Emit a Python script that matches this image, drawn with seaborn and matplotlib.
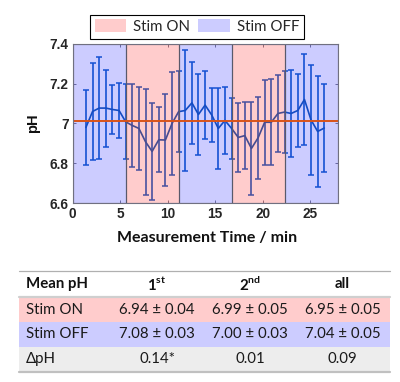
import numpy as np
import pandas as pd
import seaborn as sns
import matplotlib
matplotlib.use("Agg")
import matplotlib.pyplot as plt
from matplotlib.patches import Rectangle, Patch
from matplotlib.lines import Line2D

# ---------------- data ----------------
time_min = [1.39, 2.09, 2.79, 3.49, 4.18, 4.88, 5.58, 6.27, 6.97, 7.67,
            8.36, 9.06, 9.76, 10.46, 11.15, 11.85, 12.55, 13.24, 13.94, 14.64,
            15.33, 16.03, 16.73, 17.43, 18.12, 18.82, 19.52, 20.21, 20.91, 21.61,
            22.30, 23.00, 23.70, 24.40, 25.09, 25.79, 26.49]
ph_mean = [6.98, 7.06, 7.077, 7.077, 7.07, 7.065, 7.008, 6.99, 6.975, 6.908,
           6.86, 6.918, 6.917, 7.0, 7.059, 7.065, 7.103, 7.045, 7.092, 7.042,
           6.975, 7.015, 6.975, 6.93, 6.939, 6.875, 6.928, 7.006, 7.006, 7.05,
           7.057, 7.05, 7.065, 7.12, 7.018, 6.96, 6.977]
ph_err = [0.19, 0.245, 0.255, 0.193, 0.125, 0.139, 0.188, 0.207, 0.208, 0.267,
          0.243, 0.163, 0.23, 0.258, 0.204, 0.302, 0.205, 0.203, 0.171, 0.134,
          0.203, 0.168, 0.153, 0.172, 0.169, 0.233, 0.205, 0.214, 0.216, 0.195,
          0.206, 0.217, 0.182, 0.229, 0.274, 0.277, 0.222]
block_edges = [0, 5.58, 11.15, 16.73, 22.30, 27.88]
block_state = ["OFF", "ON", "OFF", "ON", "OFF"]
mean_ref = 7.01
x_ticks = [0, 5, 10, 15, 20, 25]
y_ticks = [6.6, 6.8, 7.0, 7.2, 7.4]
y_tick_labels = ["6.6", "6.8", "7", "7.2", "7.4"]
legend_labels = ["Stim ON", "Stim OFF"]
x_label = "Measurement Time / min"
y_label = "pH"

table_header = ["Mean pH", r"$\mathbf{1}^{\mathbf{st}}$", r"$\mathbf{2}^{\mathbf{nd}}$", "all"]
row_labels = ["Stim ON", "Stim OFF", "ΔpH"]
row_values = [["6.94 ± 0.04", "6.99 ± 0.05", "6.95 ± 0.05"],
              ["7.08 ± 0.03", "7.00 ± 0.03", "7.04 ± 0.05"],
              ["0.14*", "0.01", "0.09"]]

# ---------------- style ----------------
sns.set_theme(style="white")
plt.rcParams["font.family"] = ["Lato", "DejaVu Sans"]
plt.rcParams["mathtext.fontset"] = "custom"
plt.rcParams["mathtext.rm"] = "Lato"
plt.rcParams["mathtext.bf"] = "Lato:bold"

W, H = 400, 382
fig = plt.figure(figsize=(W / 100, H / 100), dpi=100)

def fx(x):
    return x / W

def fy(y):
    return 1 - y / H

ax_l, ax_r, ax_t, ax_b = 72.7, 337.5, 43.6, 203.3
ax = fig.add_axes([fx(ax_l), fy(ax_b), (ax_r - ax_l) / W, (ax_b - ax_t) / H])

df = pd.DataFrame({"time": time_min, "ph": ph_mean, "err": ph_err})

line_blue = "#1a66c8"
ax.errorbar(df["time"], df["ph"], yerr=df["err"], fmt="none", ecolor=line_blue,
            elinewidth=1.2, capsize=1.9, capthick=1.1, zorder=2)
sns.lineplot(data=df, x="time", y="ph", ax=ax, color="#1a5fb4", lw=1.2,
             zorder=2, legend=False)

face = {"ON": (1, 0, 0, 0.2), "OFF": (0, 0, 1, 0.2)}
for a, b, s in zip(block_edges[:-1], block_edges[1:], block_state):
    ax.axvspan(a, b, facecolor=face[s], edgecolor=(0.35, 0.35, 0.42, 1.0),
               lw=0.8, zorder=3)

ax.axhline(mean_ref, color="#D95319", lw=1.4, zorder=4)

ax.set_xlim(block_edges[0], block_edges[-1])
ax.set_ylim(6.6, 7.4)
ax.set_xticks(x_ticks)
ax.set_xticklabels([str(t) for t in x_ticks])
ax.set_yticks(y_ticks)
ax.set_yticklabels(y_tick_labels)
ax.tick_params(direction="in", length=2.5, width=0.6, color="#6a6a7a",
               top=True, right=True, bottom=True, left=True, pad=3)
for lab in ax.get_xticklabels() + ax.get_yticklabels():
    lab.set_fontfamily(["Liberation Sans", "DejaVu Sans"])
    lab.set_fontweight("bold")
    lab.set_fontsize(9.8)
    lab.set_color("#262626")
for sp in ax.spines.values():
    sp.set_color("#707080")
    sp.set_linewidth(0.8)
    sp.set_zorder(5)
ax.set_xlabel("")
ax.set_ylabel("")

fig.text(fx(207), fy(238), x_label, ha="center", va="center",
         fontsize=11.5, fontweight="bold", color="#111111")
fig.text(fx(33), fy(123), y_label, ha="center", va="center", rotation=90,
         fontsize=10.5, fontweight="bold", family=["Liberation Sans", "DejaVu Sans"],
         color="#111111")

handles = [Patch(facecolor="#FFCCCC", edgecolor="none"),
           Patch(facecolor="#CCCCFF", edgecolor="none")]
leg = fig.legend(handles, legend_labels, loc="center",
                 bbox_to_anchor=(fx(197), fy(26.7)), ncol=2, frameon=True,
                 fancybox=False, edgecolor="black", framealpha=1,
                 handlelength=2.1, handleheight=0.95, columnspacing=0.55,
                 handletextpad=0.45, borderpad=0.3, borderaxespad=0,
                 prop={"family": ["Lato", "DejaVu Sans"], "size": 10.8})
leg.get_frame().set_linewidth(0.8)

# ---------------- table ----------------
tl, tr = 19.3, 390.0
row_edges = [271.5, 297.0, 321.7, 346.7, 371.8]
row_colors = [None, "#FFCCCC", "#CCCCFF", "#EDEDED"]
for i, c in enumerate(row_colors):
    if c is None:
        continue
    y0, y1 = row_edges[i], row_edges[i + 1]
    fig.add_artist(Rectangle((fx(tl), fy(y1)), (tr - tl) / W, (y1 - y0) / H,
                             transform=fig.transFigure, facecolor=c,
                             edgecolor="none", zorder=1))
fig.add_artist(Line2D([fx(tl), fx(tr)], [fy(271.3)] * 2, color="#b0b0b0", lw=0.9))
fig.add_artist(Line2D([fx(tl), fx(tr)], [fy(296.8)] * 2, color="#cfcfcf", lw=1.6))
fig.add_artist(Line2D([fx(tl), fx(tr)], [fy(372.3)] * 2, color="#c0c0c0", lw=1.6))

col_x = [26.0, 157.0, 250.0, 342.5]
row_y = [284.3, 309.5, 334.2, 359.2]
fig.text(fx(col_x[0]), fy(row_y[0]), table_header[0], ha="left", va="center",
         fontsize=10.8, fontweight="bold", color="#111111")
for j in range(1, 4):
    fig.text(fx(col_x[j]), fy(row_y[0]), table_header[j], ha="center", va="center",
             fontsize=10.8, fontweight="bold", color="#111111")
for i, (lab, vals) in enumerate(zip(row_labels, row_values)):
    fig.text(fx(col_x[0]), fy(row_y[i + 1]), lab, ha="left", va="center",
             fontsize=10.8, color="#1a1a1a", family=["Lato", "DejaVu Sans"])
    for j, v in enumerate(vals):
        fig.text(fx(col_x[j + 1]), fy(row_y[i + 1]), v, ha="center", va="center",
                 fontsize=10.8, color="#1a1a1a")

fig.savefig("out.png", dpi=100)
